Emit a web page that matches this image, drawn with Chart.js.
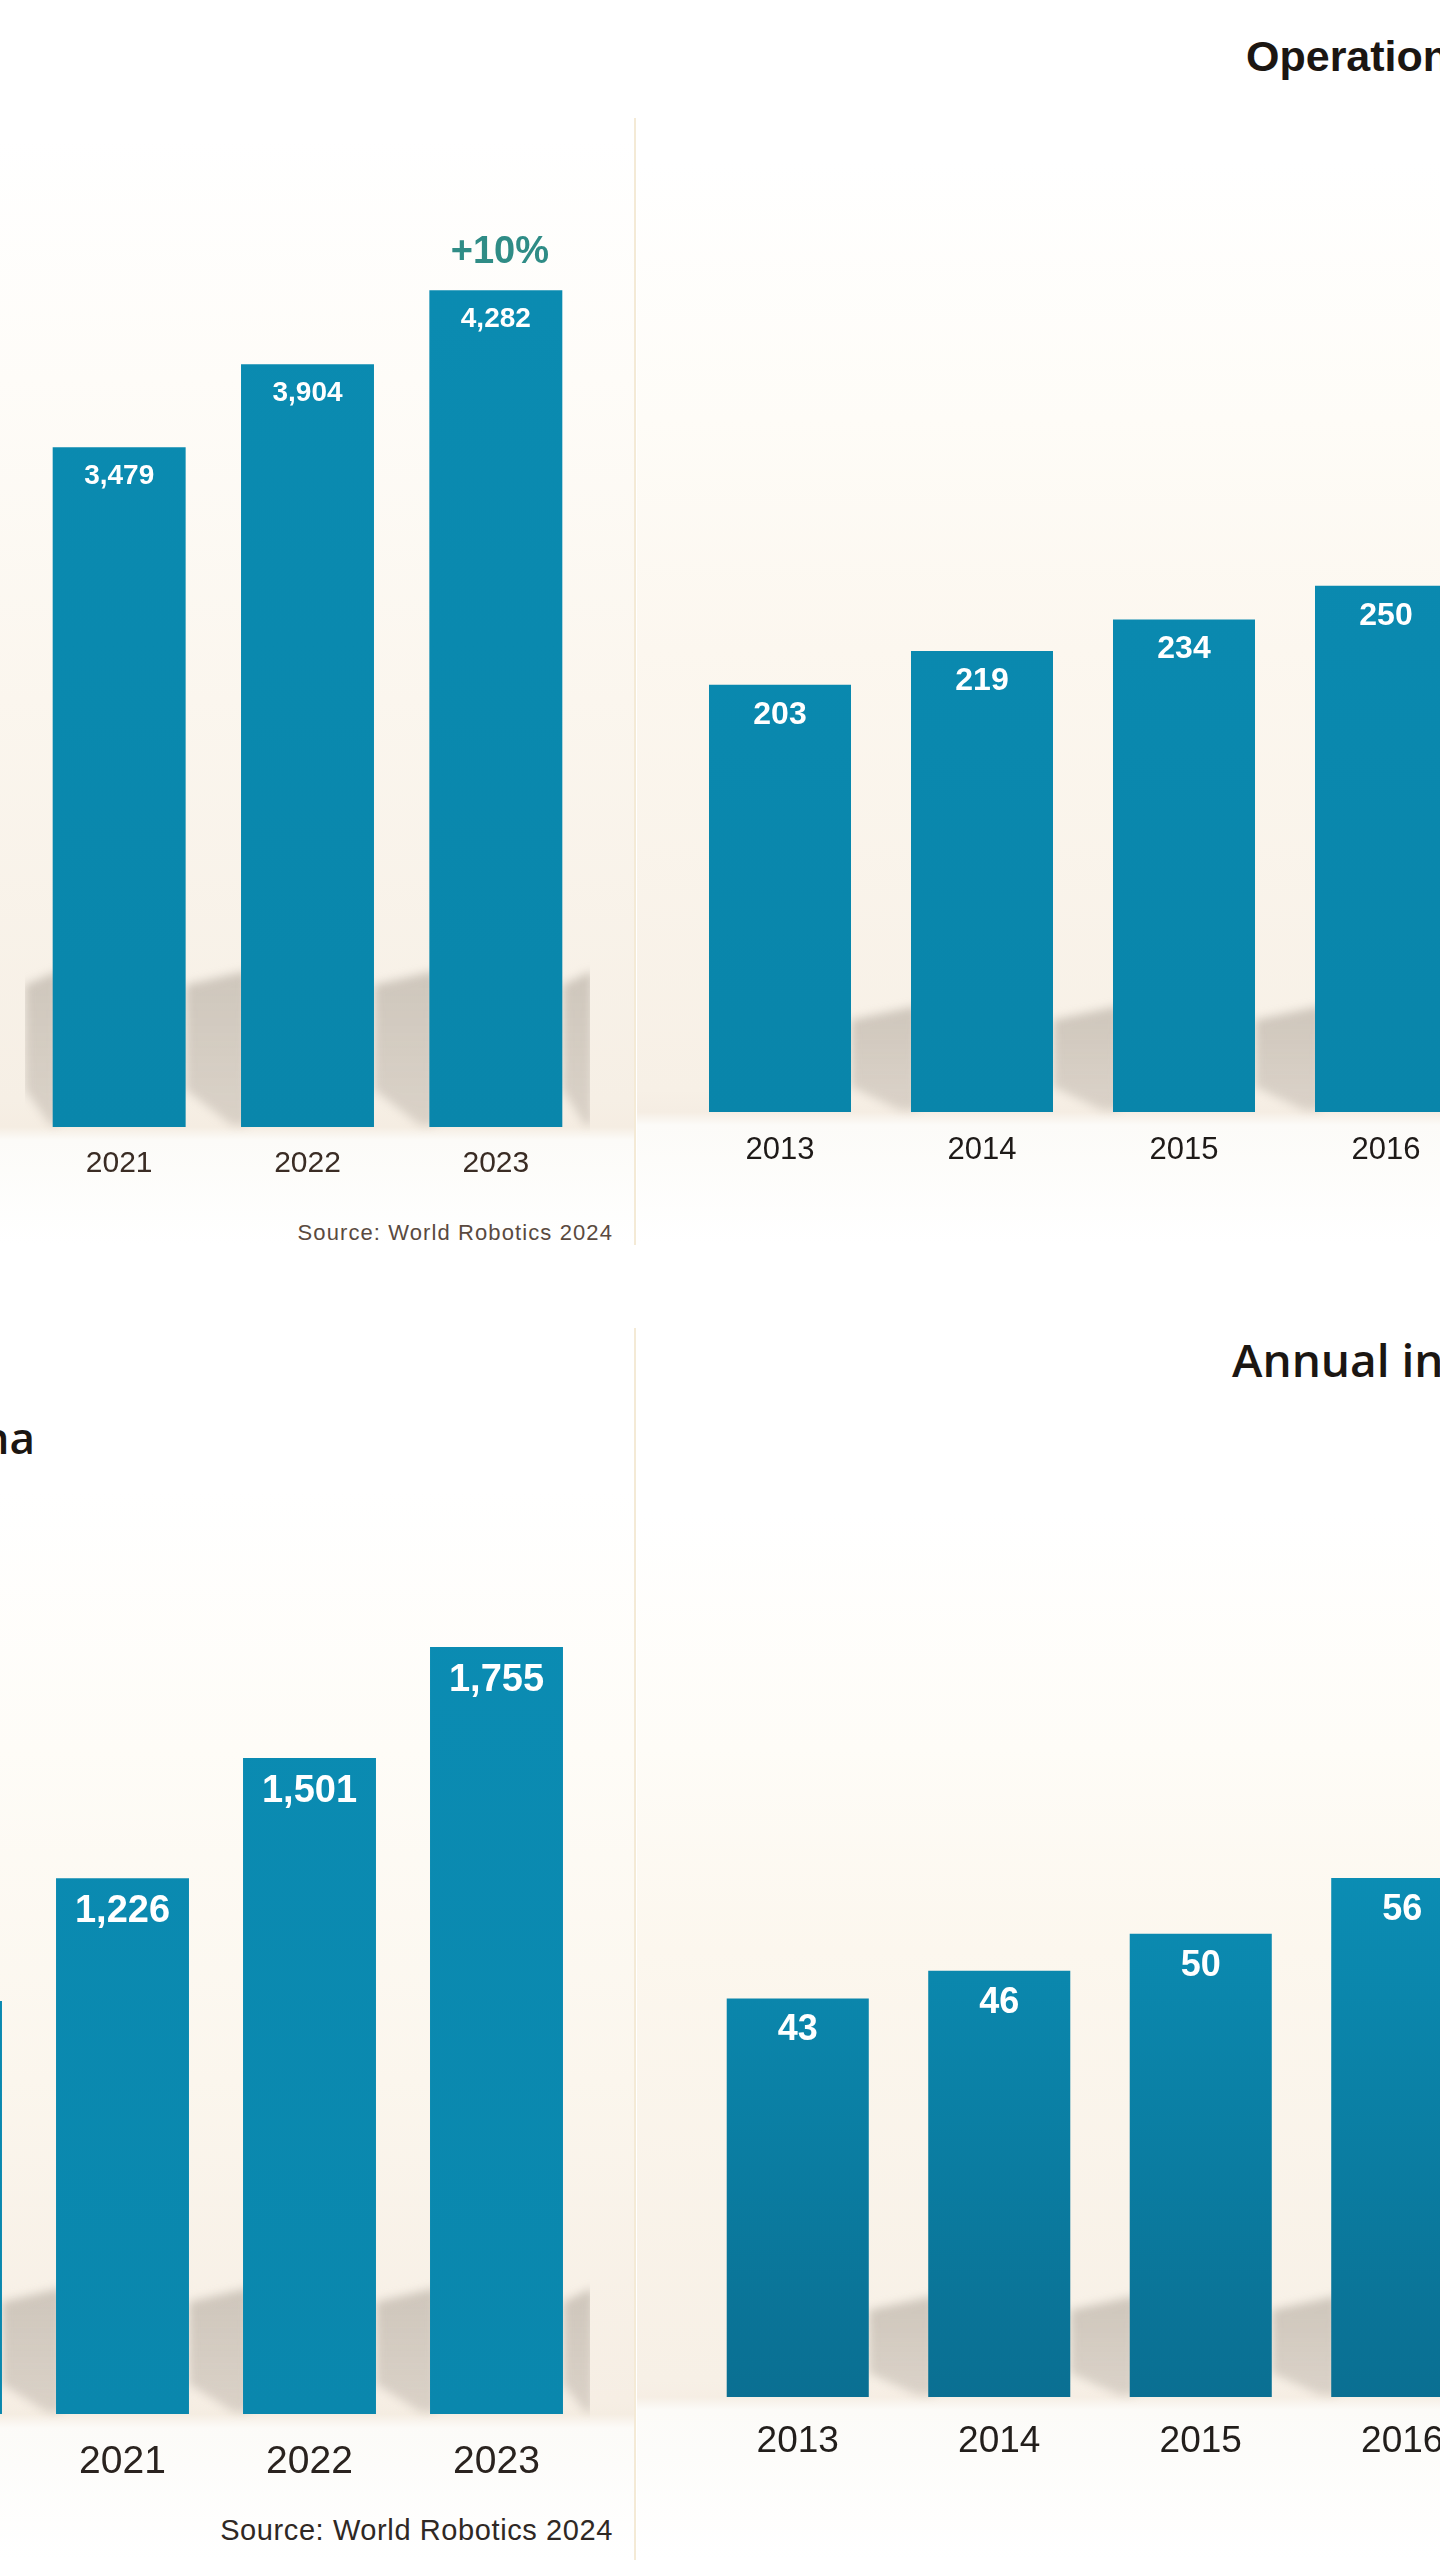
<!DOCTYPE html>
<html>
<head>
<meta charset="utf-8">
<script src="https://cdn.jsdelivr.net/npm/chart.js@4.4.1/dist/chart.umd.min.js"></script>
<style>
html,body{margin:0;padding:0;}
body{width:1440px;height:2560px;overflow:hidden;position:relative;background:#fff;font-family:'Liberation Sans',Arial,sans-serif;}
.bg{position:absolute;}
canvas{position:absolute;}
.txt{position:absolute;white-space:nowrap;line-height:1;}
.vline{position:absolute;width:2px;background:#f4ead6;}
</style>
</head>
<body>
<div class="bg" style="left:0;top:0;width:635px;height:1245px;background:linear-gradient(to bottom,#ffffff 0px,#ffffff 140px,#fefcf8 380px,#fbf6ee 700px,#f6efe5 1100px,#f5ede2 1127px,#fcfbf8 1140px,#ffffff 1245px);"></div>
<div class="bg" style="left:637px;top:0;width:803px;height:1245px;background:linear-gradient(to bottom,#ffffff 0px,#ffffff 160px,#fefcf7 420px,#fcf7ef 650px,#f7f0e6 1090px,#f5ede3 1112px,#fcfbf8 1125px,#ffffff 1245px);"></div>
<div class="bg" style="left:0;top:1330px;width:635px;height:1230px;background:linear-gradient(to bottom,#ffffff 0px,#ffffff 160px,#fefcf7 420px,#fbf6ed 750px,#f6eee4 1070px,#f5ede2 1084px,#fcfbf8 1098px,#ffffff 1230px);"></div>
<div class="bg" style="left:637px;top:1330px;width:803px;height:1230px;background:linear-gradient(to bottom,#ffffff 0px,#ffffff 180px,#fefcf7 420px,#fcf7ee 620px,#f7f0e6 1050px,#f6eee4 1067px,#fcfbf8 1080px,#ffffff 1230px);"></div>
<div class="vline" style="left:634px;top:118px;height:1127px;"></div>
<div class="vline" style="left:634px;top:1328px;height:1232px;"></div>

<canvas id="chartTL"></canvas>
<canvas id="chartTR"></canvas>
<canvas id="chartBL"></canvas>
<canvas id="chartBR"></canvas>

<div class="txt" style="left:1246px;top:35px;font-family:'Liberation Sans',Arial,sans-serif;font-weight:bold;font-size:43px;color:#1b1612;">Operation</div>
<div class="txt" style="left:1232px;top:1336px;font-family:'Open Sans',sans-serif;font-weight:600;font-size:46px;color:#1b1612;">Annual in</div>
<div class="txt" style="right:1405px;top:1415px;text-align:right;font-family:'Open Sans',sans-serif;font-weight:600;font-size:44px;color:#1b1612;">na</div>
<div class="txt" style="right:827px;top:1222px;font-size:22px;letter-spacing:1.1px;color:#5a4a40;">Source: World Robotics 2024</div>
<div class="txt" style="right:827px;top:2516px;font-size:29px;letter-spacing:0.6px;color:#2f2824;">Source: World Robotics 2024</div>

<script>
// ---- Data ----
const worldYears = ['2021', '2022', '2023'];
const worldStock = [3479, 3904, 4282];
const worldGrowthLabel = '+10%';

const stockYears = ['2013', '2014', '2015', '2016'];
const stockValues = [203, 219, 234, 250];

const chinaYears = ['2020', '2021', '2022', '2023'];
const chinaStock = [945, 1226, 1501, 1755];

const installYears = ['2013', '2014', '2015', '2016'];
const installValues = [43, 46, 50, 56];

// ---- Plugins ----
function drawShadow(ctx, xr, gap, base, H) {
  const g = ctx.createLinearGradient(0, base - H, 0, base);
  g.addColorStop(0, 'rgba(150,140,128,0.42)');
  g.addColorStop(1, 'rgba(165,155,145,0.34)');
  ctx.beginPath();
  ctx.moveTo(xr, base - H + 8);
  ctx.lineTo(xr + gap, base - H - 6);
  ctx.lineTo(xr + gap, base - 2);
  ctx.lineTo(xr + gap * 0.75, base - 2);
  ctx.lineTo(xr, base - H * 0.25);
  ctx.closePath();
  ctx.fillStyle = g;
  ctx.fill();
}

const shadowPlugin = {
  id: 'barShadow',
  beforeDatasetsDraw(chart, args, opts) {
    const meta = chart.getDatasetMeta(0);
    const ctx = chart.ctx;
    const base = chart.scales.y.getPixelForValue(0);
    const n = meta.data.length;
    ctx.save();
    ctx.filter = 'blur(' + (opts.blur || 5) + 'px)';
    if (opts.lead) {
      const first = meta.data[0];
      const xl = first.x - first.width / 2;
      drawShadow(ctx, 0, xl + 6, base, opts.height);
    }
    meta.data.forEach((bar, i) => {
      const xr = bar.x + bar.width / 2;
      let gap;
      if (i < n - 1) {
        gap = (meta.data[i + 1].x - meta.data[i + 1].width / 2) - xr + 6;
      } else {
        gap = opts.lastWidth || 30;
      }
      drawShadow(ctx, xr, gap, base, opts.height);
    });
    ctx.restore();
  }
};

const valuePlugin = {
  id: 'barValues',
  afterDatasetsDraw(chart, args, opts) {
    const meta = chart.getDatasetMeta(0);
    const ctx = chart.ctx;
    const values = chart.data.datasets[0].data;
    ctx.save();
    ctx.textAlign = 'center';
    ctx.textBaseline = 'middle';
    ctx.fillStyle = '#ffffff';
    ctx.font = 'bold ' + opts.size + "px 'Liberation Sans', Arial, sans-serif";
    meta.data.forEach((bar, i) => {
      ctx.fillText(values[i].toLocaleString('en-US'), bar.x, bar.y + opts.offset);
    });
    if (opts.extra) {
      const last = meta.data[meta.data.length - 1];
      ctx.fillStyle = opts.extraColor;
      ctx.font = 'bold ' + opts.extraSize + "px 'Liberation Sans', Arial, sans-serif";
      ctx.fillText(opts.extra, last.x + 4, last.y - opts.extraOffset);
    }
    ctx.restore();
  }
};

function makeBarChart(id, cfg) {
  const canvas = document.getElementById(id);
  const plotH = cfg.base - cfg.top;
  const axisH = 90;
  const H = plotH + axisH;
  canvas.width = cfg.width;
  canvas.height = H;
  canvas.style.left = cfg.left + 'px';
  canvas.style.top = cfg.top + 'px';
  canvas.style.width = cfg.width + 'px';
  canvas.style.height = H + 'px';
  return new Chart(canvas, {
    type: 'bar',
    data: {
      labels: cfg.labels,
      datasets: [{
        data: cfg.values,
        backgroundColor: (c) => {
          const area = c.chart.chartArea;
          if (!area) return cfg.colorTop;
          const g = c.chart.ctx.createLinearGradient(0, area.top, 0, area.bottom);
          g.addColorStop(0, cfg.colorTop);
          g.addColorStop(1, cfg.colorBottom);
          return g;
        },
        borderWidth: 0,
        barPercentage: cfg.barPct,
        categoryPercentage: 1
      }]
    },
    options: {
      responsive: false,
      animation: false,
      devicePixelRatio: 1,
      layout: { padding: 0 },
      plugins: {
        legend: { display: false },
        tooltip: { enabled: false },
        barShadow: cfg.shadow,
        barValues: cfg.valueLabels
      },
      scales: {
        x: {
          grid: { display: false, drawTicks: false },
          border: { display: false },
          ticks: {
            color: cfg.tickColor,
            font: { family: "'Liberation Sans', Arial, sans-serif", size: cfg.tickSize },
            padding: cfg.tickPad,
            maxRotation: 0,
            autoSkip: false
          },
          afterFit: (s) => { s.height = axisH; }
        },
        y: { display: false, min: 0, max: cfg.max }
      }
    },
    plugins: [shadowPlugin, valuePlugin]
  });
}

makeBarChart('chartTL', {
  labels: worldYears, values: worldStock,
  left: 25, width: 565, top: 150, base: 1127, max: 5000, barPct: 0.706,
  colorTop: '#0b8cb2', colorBottom: '#0986ab',
  tickColor: '#3a2c24', tickSize: 30, tickPad: 19,
  shadow: { height: 150, lastWidth: 30, blur: 5, lead: true },
  valueLabels: { size: 28, offset: 29, extra: worldGrowthLabel, extraColor: '#2f8c86', extraSize: 38, extraOffset: 38 }
});

makeBarChart('chartTR', {
  labels: stockYears, values: stockValues,
  left: 679, width: 808, top: 270, base: 1112, max: 400, barPct: 0.703,
  colorTop: '#0b8cb3', colorBottom: '#0985aa',
  tickColor: '#1e1a18', tickSize: 31, tickPad: 20,
  shadow: { height: 100, lastWidth: 30, blur: 5 },
  valueLabels: { size: 32, offset: 30 }
});

makeBarChart('chartBL', {
  labels: chinaYears, values: chinaStock,
  left: -158, width: 748, top: 1540, base: 2414, max: 2000, barPct: 0.711,
  colorTop: '#0b8cb3', colorBottom: '#0a87ad',
  tickColor: '#2a231f', tickSize: 39, tickPad: 25,
  shadow: { height: 120, lastWidth: 30, blur: 5 },
  valueLabels: { size: 38, offset: 33 }
});

makeBarChart('chartBR', {
  labels: installYears, values: installValues,
  left: 697, width: 806, top: 1841, base: 2397, max: 60, barPct: 0.705,
  colorTop: '#0b8fb6', colorBottom: '#0a6f92',
  tickColor: '#221e1b', tickSize: 37, tickPad: 23,
  shadow: { height: 95, lastWidth: 30, blur: 5 },
  valueLabels: { size: 36, offset: 32 }
});
</script>
</body>
</html>
